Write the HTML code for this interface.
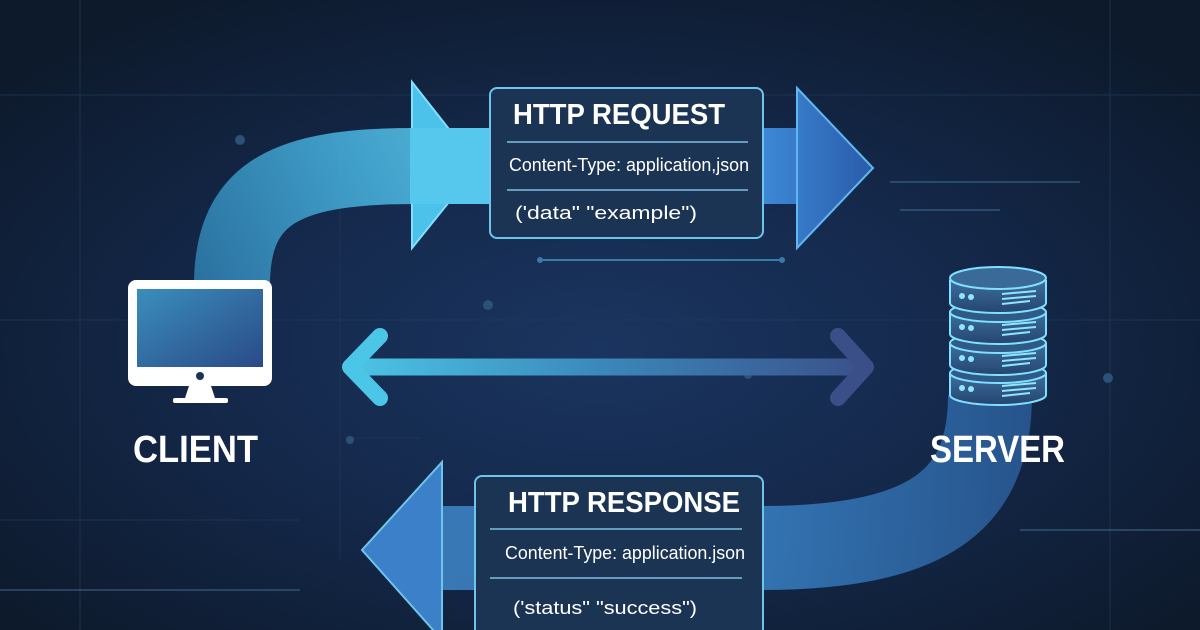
<!DOCTYPE html>
<html><head><meta charset="utf-8"><style>
html,body{margin:0;padding:0;width:1200px;height:630px;overflow:hidden;background:#0f1d31}
svg{display:block}
text{font-family:"Liberation Sans Narrow","Liberation Sans",sans-serif}
</style></head><body>
<svg width="1200" height="630" viewBox="0 0 1200 630" xmlns="http://www.w3.org/2000/svg">
<defs>
<radialGradient id="bg" cx="0.5" cy="0.55" r="0.65">
<stop offset="0" stop-color="#1a3560"/><stop offset="0.5" stop-color="#14284a"/><stop offset="1" stop-color="#0d1a2c"/>
</radialGradient>
<linearGradient id="top" gradientUnits="userSpaceOnUse" x1="200" y1="280" x2="480" y2="130">
<stop offset="0" stop-color="#2f7fb0"/><stop offset="0.6" stop-color="#48b4e0"/><stop offset="1" stop-color="#5fd0f2"/>
</linearGradient>
<linearGradient id="rhead" gradientUnits="userSpaceOnUse" x1="760" y1="0" x2="875" y2="0">
<stop offset="0" stop-color="#3d8ad8"/><stop offset="1" stop-color="#2a5aa8"/>
</linearGradient>
<linearGradient id="dbl" gradientUnits="userSpaceOnUse" x1="345" y1="0" x2="875" y2="0">
<stop offset="0" stop-color="#4cc6e6"/><stop offset="0.5" stop-color="#3a86b8"/><stop offset="1" stop-color="#3a4f88"/>
</linearGradient>
<linearGradient id="bot" gradientUnits="userSpaceOnUse" x1="1030" y1="0" x2="440" y2="0">
<stop offset="0" stop-color="#2a5c98"/><stop offset="0.5" stop-color="#3a84c8"/><stop offset="1" stop-color="#3f86c8"/>
</linearGradient>
<linearGradient id="scr" x1="0" y1="0" x2="1" y2="1">
<stop offset="0" stop-color="#3a8ebd"/><stop offset="1" stop-color="#2a4a86"/>
</linearGradient>
<linearGradient id="disk" x1="0" y1="0" x2="0" y2="1">
<stop offset="0" stop-color="#3d6f9f"/><stop offset="1" stop-color="#25456e"/>
</linearGradient>
</defs>
<rect width="1200" height="630" fill="url(#bg)"/>
<g stroke="#1f3b5a" stroke-width="1" opacity="0.7">
<line x1="0" y1="95" x2="1200" y2="95"/><line x1="0" y1="320" x2="1200" y2="320"/>
<line x1="0" y1="520" x2="300" y2="520"/><line x1="80" y1="0" x2="80" y2="630"/>
<line x1="1110" y1="0" x2="1110" y2="630"/><line x1="340" y1="140" x2="340" y2="560"/>
<line x1="345" y1="438" x2="420" y2="438"/>
</g>
<g fill="#2a5275"><circle cx="240" cy="140" r="5"/><circle cx="488" cy="305" r="5"/><circle cx="748" cy="375" r="4"/><circle cx="1108" cy="378" r="5"/><circle cx="350" cy="440" r="4"/></g>
<g stroke="#5aa0c8" stroke-width="1" opacity="0.6" fill="none">
<line x1="890" y1="182" x2="1080" y2="182"/><line x1="900" y1="210" x2="1000" y2="210"/>
<line x1="0" y1="590" x2="300" y2="590"/><line x1="1020" y1="530" x2="1200" y2="530"/>
</g>
<!-- top curved arrow -->
<path d="M232 285 C232 190 290 166 415 166" stroke="url(#top)" stroke-width="76" fill="none" opacity="0.85"/>
<path d="M412 82 L478 166 L412 248 Z" fill="#4cc2ea" stroke="#7fe0ff" stroke-width="2"/>
<rect x="410" y="128" width="90" height="76" fill="#56c8ee"/>
<rect x="755" y="128" width="48" height="76" fill="url(#rhead)"/>
<path d="M797 88 L873 168 L797 248 Z" fill="url(#rhead)" stroke="#5fb8f0" stroke-width="2"/>
<!-- request box -->
<rect x="490" y="88" width="273" height="150" rx="7" fill="#1b3454" stroke="#6fc4ea" stroke-width="2"/>
<text x="513" y="124" font-size="29" font-weight="bold" fill="#fff" textLength="212" lengthAdjust="spacingAndGlyphs">HTTP REQUEST</text>
<line x1="507" y1="142" x2="748" y2="142" stroke="#7fbfe0" stroke-width="1.5"/>
<text x="509" y="171" font-size="18" fill="#fff" textLength="240" lengthAdjust="spacingAndGlyphs">Content-Type: application,json</text>
<line x1="507" y1="190" x2="748" y2="190" stroke="#7fbfe0" stroke-width="1.5"/>
<text x="515" y="219" font-size="18" fill="#fff" textLength="182" lengthAdjust="spacingAndGlyphs">('data" "example")</text>
<line x1="540" y1="260" x2="782" y2="260" stroke="#3a7aa8" stroke-width="2"/>
<circle cx="540" cy="260" r="3" fill="#3a7aa8"/><circle cx="782" cy="260" r="3" fill="#3a7aa8"/>
<!-- double arrow -->
<line x1="355" y1="367" x2="862" y2="367" stroke="url(#dbl)" stroke-width="17"/>
<polyline points="380,336 350,367 380,398" fill="none" stroke="#4cc6e6" stroke-width="16" stroke-linecap="round" stroke-linejoin="round"/>
<polyline points="838,336 866,367 838,398" fill="none" stroke="#3a4f88" stroke-width="16" stroke-linecap="round" stroke-linejoin="round"/>
<!-- monitor -->
<rect x="128" y="280" width="144" height="106" rx="8" fill="#fff"/>
<rect x="137" y="289" width="126" height="78" fill="url(#scr)"/>
<circle cx="200" cy="376" r="4" fill="#1b3454"/>
<path d="M189 386 L211 386 L215 398 L185 398 Z" fill="#fff"/>
<rect x="173" y="398" width="55" height="5" rx="2" fill="#fff"/>
<text x="133" y="462" font-size="38" font-weight="bold" fill="#fff" textLength="125" lengthAdjust="spacingAndGlyphs">CLIENT</text>
<!-- bottom curve -->
<path d="M990 395 C990 500 930 548 760 548 L440 548" stroke="url(#bot)" stroke-width="84" fill="none" opacity="0.85"/>
<path d="M442 462 L362 550 L442 640 Z" fill="#3b80c8" stroke="#6fc4ea" stroke-width="2"/>
<!-- response box -->
<rect x="475" y="476" width="288" height="160" rx="7" fill="#1b3454" stroke="#6fc4ea" stroke-width="2"/>
<text x="508" y="512" font-size="29" font-weight="bold" fill="#fff" textLength="232" lengthAdjust="spacingAndGlyphs">HTTP RESPONSE</text>
<line x1="490" y1="529" x2="742" y2="529" stroke="#7fbfe0" stroke-width="1.5"/>
<text x="505" y="559" font-size="18" fill="#fff" textLength="240" lengthAdjust="spacingAndGlyphs">Content-Type: application.json</text>
<line x1="490" y1="578" x2="742" y2="578" stroke="#7fbfe0" stroke-width="1.5"/>
<text x="513" y="614" font-size="18" fill="#fff" textLength="184" lengthAdjust="spacingAndGlyphs">('status" "success")</text>
<!-- server -->
<g stroke="#7fe0ff" stroke-width="2">
<path d="M950 373 L950 395 A48 10 0 0 0 1046 395 L1046 373" fill="url(#disk)"/>
<ellipse cx="998" cy="373" rx="48" ry="10" fill="#2f5a88"/>
<path d="M950 343 L950 365 A48 10 0 0 0 1046 365 L1046 343" fill="url(#disk)"/>
<ellipse cx="998" cy="343" rx="48" ry="10" fill="#2f5a88"/>
<path d="M950 312 L950 334 A48 10 0 0 0 1046 334 L1046 312" fill="url(#disk)"/>
<ellipse cx="998" cy="312" rx="48" ry="10" fill="#2f5a88"/>
<path d="M950 280 L950 303 A48 10 0 0 0 1046 303 L1046 280" fill="url(#disk)"/>
<ellipse cx="998" cy="278" rx="48" ry="11" fill="#3a6a98"/>
</g>
<g fill="#8ee6ff">
<circle cx="962" cy="296" r="3"/><circle cx="971" cy="297" r="3"/>
<circle cx="962" cy="327" r="3"/><circle cx="971" cy="328" r="3"/>
<circle cx="962" cy="358" r="3"/><circle cx="971" cy="359" r="3"/>
<circle cx="962" cy="388" r="3"/><circle cx="971" cy="389" r="3"/>
</g>
<g stroke="#8ee6ff" stroke-width="2">
<line x1="1002" y1="294" x2="1036" y2="291"/><line x1="1002" y1="299" x2="1036" y2="296"/><line x1="1002" y1="304" x2="1030" y2="301"/>
<line x1="1002" y1="325" x2="1036" y2="322"/><line x1="1002" y1="330" x2="1036" y2="327"/><line x1="1002" y1="335" x2="1030" y2="332"/>
<line x1="1002" y1="356" x2="1036" y2="353"/><line x1="1002" y1="361" x2="1036" y2="358"/><line x1="1002" y1="366" x2="1030" y2="363"/>
<line x1="1002" y1="386" x2="1036" y2="383"/><line x1="1002" y1="391" x2="1036" y2="388"/><line x1="1002" y1="396" x2="1030" y2="393"/>
</g>
<text x="930" y="462" font-size="38" font-weight="bold" fill="#fff" textLength="135" lengthAdjust="spacingAndGlyphs">SERVER</text>
</svg>
</body></html>
